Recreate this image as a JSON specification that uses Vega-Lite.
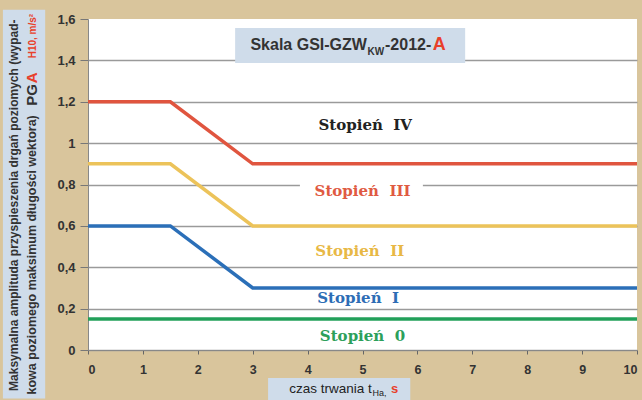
{
  "$schema": "https://vega.github.io/schema/vega-lite/v6.json",
  "width": 549,
  "height": 331,
  "autosize": {"type": "none"},
  "padding": {"left": 88, "top": 19, "right": 5, "bottom": 50},
  "background": "#d9c59c",
  "config": {
    "view": {"fill": "white", "stroke": null},
    "text": {"font": "Liberation Sans"}
  },
  "datasets": {
    "lines": [
      {"series": "IV", "x": 0, "y": 1.2}, {"series": "IV", "x": 1.5, "y": 1.2}, {"series": "IV", "x": 3, "y": 0.9}, {"series": "IV", "x": 10, "y": 0.9},
      {"series": "III", "x": 0, "y": 0.9}, {"series": "III", "x": 1.5, "y": 0.9}, {"series": "III", "x": 3, "y": 0.6}, {"series": "III", "x": 10, "y": 0.6},
      {"series": "II", "x": 0, "y": 0.6}, {"series": "II", "x": 1.5, "y": 0.6}, {"series": "II", "x": 3, "y": 0.3}, {"series": "II", "x": 10, "y": 0.3},
      {"series": "I", "x": 0, "y": 0.15}, {"series": "I", "x": 10, "y": 0.15}
    ],
    "labels": [
      {"series": "L4", "label": "Stopień\u00a0\u00a0IV", "x": 5.05, "y": 1.09},
      {"series": "L3", "label": "Stopień\u00a0\u00a0III", "x": 5.0, "y": 0.77},
      {"series": "L2", "label": "Stopień\u00a0\u00a0II", "x": 4.95, "y": 0.48},
      {"series": "L1", "label": "Stopień\u00a0\u00a0I", "x": 4.92, "y": 0.25},
      {"series": "L0", "label": "Stopień\u00a0\u00a00", "x": 5.0, "y": 0.068}
    ],
    "boxes": [
      {"x": 2.68, "x2": 6.87, "y": 1.556, "y2": 1.387},
      {"x": 3.28, "x2": 5.87, "y": -0.135, "y2": -0.245},
      {"x": -1.55, "x2": -0.78, "y": 1.645, "y2": -0.235}
    ],
    "gap": [{"x": 3.86, "x2": 6.1, "y": 0.785, "y2": 0.815}]
  },
  "layer": [
    {
      "data": {"name": "boxes"},
      "mark": {"type": "rect", "fill": "#cfdcea", "clip": false},
      "encoding": {
        "x": {"field": "x", "type": "quantitative", "scale": {"domain": [0, 10], "nice": false}, "title": null,
          "axis": {"values": [0,1,2,3,4,5,6,7,8,9,10], "grid": false, "labelFont": "Liberation Sans", "labelFontWeight": "bold", "labelFontSize": 12.5, "labelColor": "#333", "tickColor": "#666", "tickSize": 4, "domainColor": "#888", "labelPadding": 9}},
        "x2": {"field": "x2"},
        "y": {"field": "y", "type": "quantitative", "scale": {"domain": [0, 1.6], "nice": false}, "title": null,
          "axis": {"values": [0,0.2,0.4,0.6,0.8,1,1.2,1.4,1.6], "grid": true, "gridColor": "#9a9a9a", "gridWidth": 1.5,
            "gridOpacity": {"condition": {"test": "datum.value >= 1.6", "value": 0}, "value": 1},
            "labelExpr": "replace(format(datum.value, '~g'), '.', ',')",
            "labelFont": "Liberation Sans", "labelFontWeight": "bold", "labelFontSize": 13, "labelColor": "#333", "tickColor": "#777", "tickSize": 8, "domainColor": "#888", "labelPadding": 5}},
        "y2": {"field": "y2"}
      }
    },
    {
      "data": {"name": "gap"},
      "mark": {"type": "rect", "fill": "white"},
      "encoding": {
        "x": {"field": "x", "type": "quantitative", "scale": {"domain": [0, 10], "nice": false}, "title": null},
        "x2": {"field": "x2"},
        "y": {"field": "y", "type": "quantitative", "scale": {"domain": [0, 1.6], "nice": false}, "title": null},
        "y2": {"field": "y2"}
      }
    },
    {
      "data": {"name": "lines"},
      "mark": {"type": "line", "strokeWidth": 3.5},
      "encoding": {
        "x": {"field": "x", "type": "quantitative", "scale": {"domain": [0, 10], "nice": false}, "title": null},
        "y": {"field": "y", "type": "quantitative", "scale": {"domain": [0, 1.6], "nice": false}, "title": null},
        "detail": {"field": "series"},
        "color": {"field": "series", "type": "nominal", "legend": null,
          "scale": {"domain": ["IV", "III", "II", "I", "L4", "L3", "L2", "L1", "L0"], "range": ["#e0553f", "#ecc35a", "#2b6fb8", "#22a05a", "#222222", "#e05a42", "#e8b845", "#2d6db5", "#2ca05a"]}}
      }
    },
    {
      "data": {"name": "labels"},
      "mark": {"type": "text", "font": "DejaVu Serif", "fontWeight": "bold", "fontSize": 15, "baseline": "middle"},
      "encoding": {
        "x": {"field": "x", "type": "quantitative", "scale": {"domain": [0, 10], "nice": false}, "title": null},
        "y": {"field": "y", "type": "quantitative", "scale": {"domain": [0, 1.6], "nice": false}, "title": null},
        "text": {"field": "label"},
        "color": {"field": "series", "type": "nominal", "legend": null}
      }
    },
    {
      "data": {"values": [
        {"t": "Skala GSI-GZW", "x": 5.08, "y": 1.474}
      ]},
      "mark": {"type": "text", "align": "right", "baseline": "middle", "fontWeight": "bold", "fontSize": 16, "color": "#333"},
      "encoding": {
        "x": {"field": "x", "type": "quantitative", "scale": {"domain": [0, 10], "nice": false}, "title": null},
        "y": {"field": "y", "type": "quantitative", "scale": {"domain": [0, 1.6], "nice": false}, "title": null},
        "text": {"field": "t"}
      }
    },
    {
      "data": {"values": [{"t": "-2012-", "x": 5.41, "y": 1.474}]},
      "mark": {"type": "text", "align": "left", "baseline": "middle", "fontWeight": "bold", "fontSize": 16, "color": "#333"},
      "encoding": {
        "x": {"field": "x", "type": "quantitative", "scale": {"domain": [0, 10], "nice": false}, "title": null},
        "y": {"field": "y", "type": "quantitative", "scale": {"domain": [0, 1.6], "nice": false}, "title": null},
        "text": {"field": "t"}
      }
    },
    {
      "data": {"values": [{"t": "KW", "x": 5.09, "y": 1.44}]},
      "mark": {"type": "text", "align": "left", "baseline": "middle", "fontWeight": "bold", "fontSize": 10, "color": "#333"},
      "encoding": {
        "x": {"field": "x", "type": "quantitative", "scale": {"domain": [0, 10], "nice": false}, "title": null},
        "y": {"field": "y", "type": "quantitative", "scale": {"domain": [0, 1.6], "nice": false}, "title": null},
        "text": {"field": "t"}
      }
    },
    {
      "data": {"values": [{"t": "A", "x": 6.28, "y": 1.474}]},
      "mark": {"type": "text", "align": "left", "baseline": "middle", "fontWeight": "bold", "fontSize": 18, "color": "#e8402a"},
      "encoding": {
        "x": {"field": "x", "type": "quantitative", "scale": {"domain": [0, 10], "nice": false}, "title": null},
        "y": {"field": "y", "type": "quantitative", "scale": {"domain": [0, 1.6], "nice": false}, "title": null},
        "text": {"field": "t"}
      }
    },
    {
      "data": {"values": [{"t": "czas trwania t", "x": 5.17, "y": -0.188}]},
      "mark": {"type": "text", "align": "right", "baseline": "middle", "fontSize": 13.5, "color": "#222"},
      "encoding": {
        "x": {"field": "x", "type": "quantitative", "scale": {"domain": [0, 10], "nice": false}, "title": null},
        "y": {"field": "y", "type": "quantitative", "scale": {"domain": [0, 1.6], "nice": false}, "title": null},
        "text": {"field": "t"}
      }
    },
    {
      "data": {"values": [{"t": "Ha,", "x": 5.18, "y": -0.21}]},
      "mark": {"type": "text", "align": "left", "baseline": "middle", "fontSize": 9, "color": "#222"},
      "encoding": {
        "x": {"field": "x", "type": "quantitative", "scale": {"domain": [0, 10], "nice": false}, "title": null},
        "y": {"field": "y", "type": "quantitative", "scale": {"domain": [0, 1.6], "nice": false}, "title": null},
        "text": {"field": "t"}
      }
    },
    {
      "data": {"values": [{"t": "s", "x": 5.52, "y": -0.19}]},
      "mark": {"type": "text", "align": "left", "baseline": "middle", "fontSize": 13, "fontWeight": "bold", "color": "#e8402a"},
      "encoding": {
        "x": {"field": "x", "type": "quantitative", "scale": {"domain": [0, 10], "nice": false}, "title": null},
        "y": {"field": "y", "type": "quantitative", "scale": {"domain": [0, 1.6], "nice": false}, "title": null},
        "text": {"field": "t"}
      }
    },
    {
      "data": {"values": [{"t": "Maksymalna amplituda przyspieszenia drgań poziomych (wypad-", "x": -1.348, "y": 0.70}]},
      "mark": {"type": "text", "angle": 270, "align": "center", "baseline": "middle", "fontSize": 12, "fontWeight": "bold", "color": "#333"},
      "encoding": {
        "x": {"field": "x", "type": "quantitative", "scale": {"domain": [0, 10], "nice": false}, "title": null},
        "y": {"field": "y", "type": "quantitative", "scale": {"domain": [0, 1.6], "nice": false}, "title": null},
        "text": {"field": "t"}
      }
    },
    {
      "data": {"values": [{"t": "kowa poziomego maksimum długości wektora)", "x": -1.02, "y": -0.215}]},
      "mark": {"type": "text", "angle": 270, "align": "left", "baseline": "middle", "fontSize": 12.5, "fontWeight": "bold", "color": "#333"},
      "encoding": {
        "x": {"field": "x", "type": "quantitative", "scale": {"domain": [0, 10], "nice": false}, "title": null},
        "y": {"field": "y", "type": "quantitative", "scale": {"domain": [0, 1.6], "nice": false}, "title": null},
        "text": {"field": "t"}
      }
    },
    {
      "data": {"values": [{"t": "PG", "x": -1.02, "y": 1.286}]},
      "mark": {"type": "text", "angle": 270, "align": "right", "baseline": "middle", "fontSize": 15, "fontWeight": "bold", "color": "#333"},
      "encoding": {
        "x": {"field": "x", "type": "quantitative", "scale": {"domain": [0, 10], "nice": false}, "title": null},
        "y": {"field": "y", "type": "quantitative", "scale": {"domain": [0, 1.6], "nice": false}, "title": null},
        "text": {"field": "t"}
      }
    },
    {
      "data": {"values": [{"t": "A", "x": -1.02, "y": 1.29}]},
      "mark": {"type": "text", "angle": 270, "align": "left", "baseline": "middle", "fontSize": 15, "fontWeight": "bold", "color": "#e8402a"},
      "encoding": {
        "x": {"field": "x", "type": "quantitative", "scale": {"domain": [0, 10], "nice": false}, "title": null},
        "y": {"field": "y", "type": "quantitative", "scale": {"domain": [0, 1.6], "nice": false}, "title": null},
        "text": {"field": "t"}
      }
    },
    {
      "data": {"values": [{"t": "H10, m/s²", "x": -1.0, "y": 1.625}]},
      "mark": {"type": "text", "angle": 270, "align": "right", "baseline": "middle", "fontSize": 10, "fontWeight": "bold", "color": "#e8402a"},
      "encoding": {
        "x": {"field": "x", "type": "quantitative", "scale": {"domain": [0, 10], "nice": false}, "title": null},
        "y": {"field": "y", "type": "quantitative", "scale": {"domain": [0, 1.6], "nice": false}, "title": null},
        "text": {"field": "t"}
      }
    }
  ]
}
